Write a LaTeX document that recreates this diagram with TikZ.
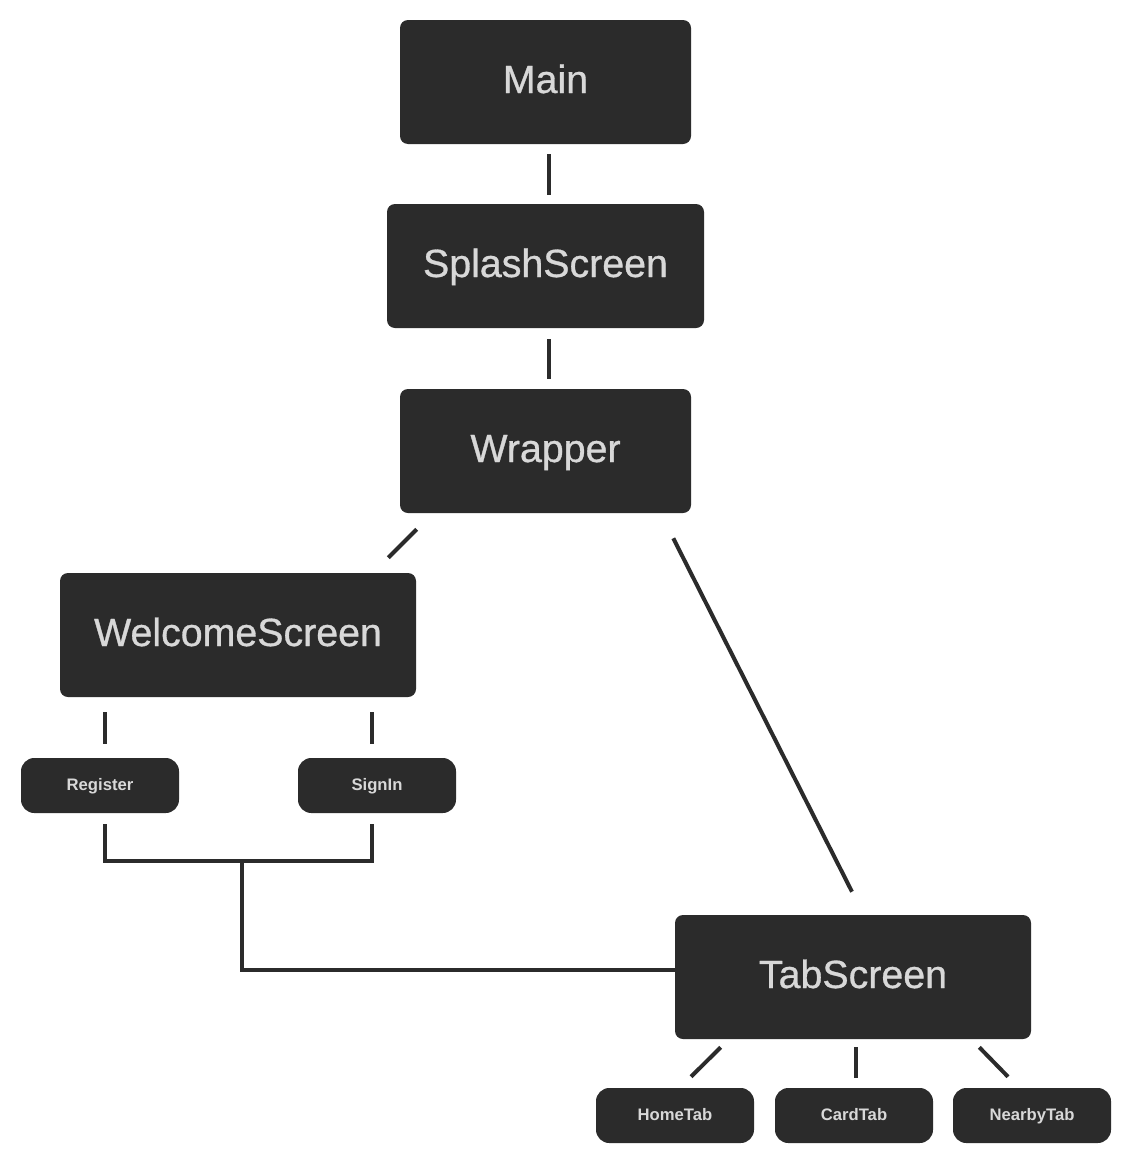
\documentclass[tikz,border=0pt]{standalone}
\usepackage{fontspec}
\setmainfont{Liberation Sans}
\newfontfamily\medfont[FakeBold=0.8]{Liberation Sans}
\usetikzlibrary{calc}
\definecolor{boxfill}{HTML}{2B2B2B}
\definecolor{boxtext}{HTML}{D8D8D8}
\tikzset{
  bigbox/.style={fill=boxfill, text=boxtext, rounded corners=6pt, minimum height=93pt, inner sep=0pt,
    text height=21pt, text depth=4.5pt,
    font=\medfont\fontsize{29.5}{36}\selectfont},
  smallbox/.style={fill=boxfill, text=boxtext, rounded corners=10pt, minimum width=118.5pt, minimum height=41.25pt, inner sep=0pt,
    text height=9pt, text depth=1.5pt,
    font=\bfseries\fontsize{12.5}{15}\selectfont},
  conn/.style={draw=boxfill, line width=3pt, line cap=butt, line join=miter}
}
\begin{document}
\begin{tikzpicture}[x=0.75pt,y=-0.75pt]
\fill[white] (0,0) rectangle (1133,1171);
\useasboundingbox (0,0) rectangle (1133,1171);
\node[bigbox, minimum width=218.25pt] (main) at (545.5,82) {Main};
\node[bigbox, minimum width=237.75pt] (splash) at (545.5,266) {SplashScreen};
\node[bigbox, minimum width=218.25pt] (wrapper) at (545.5,451) {Wrapper};
\node[bigbox, minimum width=267pt] (welcome) at (238,635) {WelcomeScreen};
\node[smallbox] (register) at (100,785.5) {Register};
\node[smallbox] (signin) at (377,785.5) {SignIn};
\node[bigbox, minimum width=267pt] (tab) at (853,977) {TabScreen};
\node[smallbox] (hometab) at (675,1115.5) {HomeTab};
\node[smallbox] (cardtab) at (854,1115.5) {CardTab};
\node[smallbox] (nearbytab) at (1032,1115.5) {NearbyTab};
\coordinate (j) at (242,861);
\draw[conn] ($(main.south)+(3,10)$) -- ($(splash.north)+(3,-9)$);
\draw[conn] ($(splash.south)+(3,11)$) -- ($(wrapper.north)+(3,-10)$);
\draw[conn] ($(wrapper.south west)+(17,16)$) -- ($(welcome.north east)+(-28,-15)$);
\draw[conn] ($(wrapper.south east)+(-18,25)$) -- ($(tab.north)+(-1,-23)$);
\draw[conn] ($(welcome.south -| register.north)+(5,15)$) -- ($(register.north)+(5,-14)$);
\draw[conn] ($(welcome.south -| signin.north)+(-5,15)$) -- ($(signin.north)+(-5,-14)$);
\draw[conn] ($(register.south)+(5,11)$) |- (j) -| ($(signin.south)+(-5,11)$);
\draw[conn] (j) |- ($(tab.west)+(0,-7)$);
\draw[conn] ($(tab.south west)+(46,8)$) -- ($(hometab.north)+(16,-11)$);
\draw[conn] ($(tab.south)+(3,8)$) -- ($(cardtab.north)+(2,-10)$);
\draw[conn] ($(tab.south east)+(-52,8)$) -- ($(nearbytab.north)+(-24,-11)$);
\end{tikzpicture}
\end{document}
